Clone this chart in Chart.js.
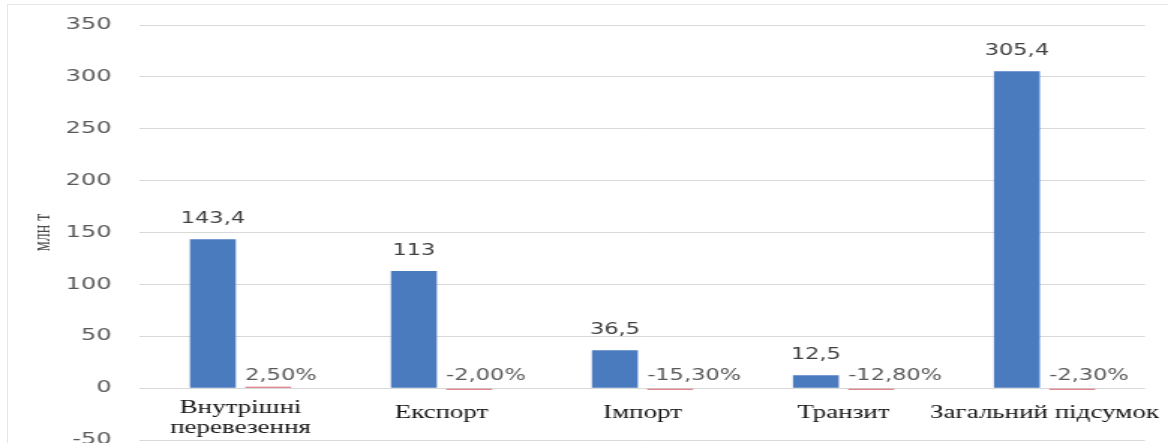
<!DOCTYPE html>
<html lang="uk">
<head>
<meta charset="utf-8">
<title>Обсяги перевезень, млн т</title>
<script src="https://cdn.jsdelivr.net/npm/chart.js@4/dist/chart.umd.min.js"></script>
<style>
  html, body { margin: 0; padding: 0; background: #ffffff; }
  body { width: 1168px; height: 443px; overflow: hidden; position: relative; }
  #frame {
    position: absolute; left: 7px; top: 4px; width: 1161px; height: 439px;
    border-top: 1px solid #e6e6e6; border-left: 1px solid #e6e6e6;
    box-sizing: border-box;
  }
  /* the chart is laid out narrow and widened horizontally */
  #chart { position: absolute; left: 0; top: 0; transform-origin: 0 0; }
</style>
</head>
<body>
<div id="frame"></div>
<canvas id="chart" width="779" height="443"></canvas>
<script>
// categories: two-line labels are given as arrays
const categories = [
  ['Внутрішні', 'перевезення'],
  'Експорт',
  'Імпорт',
  'Транзит',
  'Загальний підсумок'
];
// freight volume, million tonnes
const volumes = [143.4, 113, 36.5, 12.5, 305.4];
// change against the previous year (fraction)
const changes = [0.025, -0.02, -0.153, -0.128, -0.023];
// value-axis ticks
const yTicks = [-50, 0, 50, 100, 150, 200, 250, 300, 350];
const yTitle = 'млн т';

const CANVAS_W = 779;
const STRETCH = 1168 / CANVAS_W;
const PLOT_LEFT = 140 / STRETCH;
const PLOT_RIGHT = 1145 / STRETCH;

const canvas = document.getElementById('chart');
canvas.style.transform = 'scaleX(' + STRETCH + ')';

const numFont = '"DejaVu Sans", Verdana, sans-serif';
const serifFont = '"Liberation Serif", "Times New Roman", serif';

function fmtVolume(v) { return String(v).replace('.', ','); }
function fmtChange(v) { return (v * 100).toFixed(2).replace('.', ',') + '%'; }

// value labels above the bars and category names under the zero line
const labelsPlugin = {
  id: 'barLabels',
  afterDatasetsDraw(chart) {
    const ctx = chart.ctx;
    const yScale = chart.scales.y;
    const xScale = chart.scales.x;
    const zeroY = yScale.getPixelForValue(0);
    ctx.save();

    ctx.font = '15px ' + numFont;
    ctx.textBaseline = 'middle';
    ctx.fillStyle = '#404040';
    ctx.textAlign = 'center';
    chart.getDatasetMeta(0).data.forEach((bar, i) => {
      ctx.fillText(fmtVolume(volumes[i]), bar.x, bar.y - 20);
    });

    ctx.fillStyle = '#595959';
    ctx.textAlign = 'left';
    chart.getDatasetMeta(1).data.forEach((bar, i) => {
      ctx.fillText(fmtChange(changes[i]), bar.x - bar.width / 2, zeroY - 12);
    });

    ctx.font = '18px ' + serifFont;
    ctx.fillStyle = '#141414';
    ctx.textAlign = 'center';
    categories.forEach((cat, i) => {
      const x = xScale.getPixelForValue(i);
      if (Array.isArray(cat)) {
        cat.forEach((line, k) => ctx.fillText(line, x, zeroY + 20 + k * 20));
      } else {
        ctx.fillText(cat, x, zeroY + 25);
      }
    });
    ctx.restore();
  }
};

new Chart(canvas, {
  type: 'bar',
  data: {
    labels: categories,
    datasets: [
      {
        label: 'Обсяг, млн т',
        data: volumes,
        backgroundColor: '#4a7bbf',
        categoryPercentage: 0.55,
        barPercentage: 0.83
      },
      {
        label: 'Зміна, %',
        data: changes,
        backgroundColor: '#d4606c',
        minBarLength: 1.5,
        categoryPercentage: 0.55,
        barPercentage: 0.83
      }
    ]
  },
  options: {
    responsive: false,
    animation: false,
    devicePixelRatio: 1,
    layout: {
      padding: { left: 0, right: CANVAS_W - PLOT_RIGHT, top: 25, bottom: 3 }
    },
    plugins: {
      legend: { display: false },
      tooltip: { enabled: false }
    },
    scales: {
      x: {
        display: false
      },
      y: {
        min: yTicks[0],
        max: yTicks[yTicks.length - 1],
        afterBuildTicks(scale) {
          scale.ticks = yTicks.map(v => ({ value: v }));
        },
        afterFit(scale) {
          scale.width = PLOT_LEFT;
          scale.paddingTop = 0;
          scale.paddingBottom = 0;
        },
        border: { display: false },
        grid: { color: '#d9d9d9', lineWidth: 1, drawTicks: false },
        ticks: {
          padding: 19,
          color: '#595959',
          font: { family: numFont, size: 16 }
        },
        title: {
          display: true,
          text: yTitle,
          color: '#4d4d4d',
          padding: { top: 19, bottom: 0 },
          font: { family: serifFont, size: 16 }
        }
      }
    }
  },
  plugins: [labelsPlugin]
});
</script>
</body>
</html>
